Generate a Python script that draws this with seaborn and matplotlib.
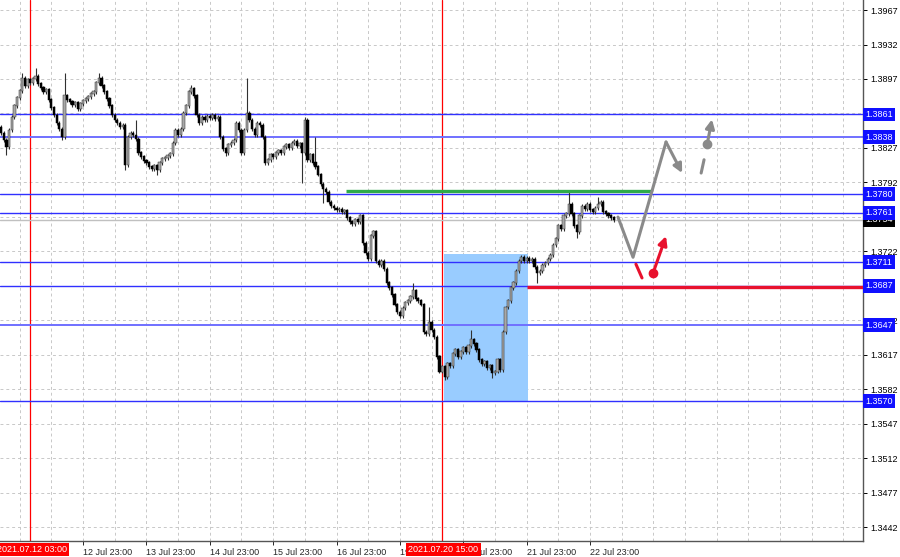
import numpy as np
import pandas as pd
import matplotlib.pyplot as plt
import seaborn as sns
from matplotlib.patches import Rectangle
from matplotlib.transforms import blended_transform_factory

# hourly closes, in pips above 1.3000 (bar 0 = left edge of chart)
OPEN0 = 848
CLOSES = [
    842, 835, 828, 845, 858, 870, 878, 885, 898, 890,
    896, 893, 897, 900, 892, 888, 884, 886, 876, 868,
    860, 852, 846, 838, 880, 876, 874, 871, 873, 867,
    872, 875, 877, 879, 882, 884, 893, 898, 890, 884,
    877, 870, 860, 855, 852, 848, 850, 810, 838, 842,
    840, 836, 822, 818, 814, 812, 808, 806, 809, 805,
    812, 816, 817, 819, 821, 832, 845, 840, 846, 862,
    870, 884, 887, 880, 860, 852, 858, 855, 859, 857,
    860, 856, 858, 838, 826, 822, 830, 832, 835, 852,
    845, 822, 845, 862, 855, 846, 840, 852, 850, 838,
    812, 815, 820, 818, 822, 824, 822, 828, 830, 827,
    832, 834, 829, 831, 822, 855, 815, 820, 812, 808,
    800, 790, 785, 782, 772, 768, 766, 764, 765, 762,
    763, 756, 752, 750, 754, 752, 758, 730, 720, 714,
    738, 742, 712, 708, 712, 704, 690, 685, 678, 668,
    660, 656, 664, 670, 672, 676, 682, 674, 672, 668,
    640, 638, 650, 642, 635, 615, 600, 605, 594, 608,
    606, 618, 622, 615, 620, 624, 620, 626, 632, 628,
    622, 612, 608, 610, 604, 606, 598, 600, 612, 602,
    640, 665, 672, 685, 690, 702, 712, 716, 712, 715,
    712, 714, 706, 700, 702, 708, 710, 714, 718, 728,
    735, 748, 745, 758, 760, 770, 760, 748, 742, 758,
    768, 765, 770, 764, 762, 766, 770, 772, 762, 760,
    758, 756, 754,
]
UP_WICK = [
    2, 2, 2, 2, 2, 2, 2, 2, 5, 2,   2, 2, 2, 8, 2, 2, 2, 2, 2, 2,
    2, 2, 2, 2, 23, 2, 2, 2, 2, 2,  2, 2, 2, 2, 2, 2, 2, 5, 2, 2,
    2, 2, 2, 2, 2, 2, 2, 2, 2, 2,   2, 15, 2, 2, 2, 2, 2, 2, 2, 2,
    2, 2, 2, 2, 2, 2, 2, 2, 2, 2,   2, 2, 4, 2, 2, 2, 2, 2, 2, 2,
    2, 2, 2, 2, 2, 2, 2, 2, 2, 2,   2, 2, 2, 36, 2, 2, 2, 2, 2, 2,
    2, 2, 2, 2, 2, 2, 2, 2, 2, 2,   2, 2, 2, 2, 2, 3, 2, 2, 2, 26,
    2, 2, 2, 2, 2, 2, 2, 2, 2, 2,   2, 2, 2, 2, 2, 2, 2, 2, 2, 2,
    2, 2, 2, 2, 2, 2, 2, 2, 2, 2,   2, 2, 2, 2, 2, 2, 8, 2, 2, 2,
    2, 2, 15, 2, 2, 2, 2, 2, 2, 2,  2, 2, 2, 2, 2, 2, 2, 2, 10, 2,
    2, 2, 2, 2, 2, 2, 2, 2, 2, 2,   2, 2, 2, 2, 2, 2, 2, 2, 2, 2,
    2, 2, 2, 2, 2, 2, 2, 2, 2, 2,   2, 2, 2, 2, 2, 14, 2, 2, 2, 2,
    2, 2, 2, 2, 2, 2, 7, 2, 2, 2,   2, 2, 2,
]
DN_WICK = [
    2, 2, 8, 2, 2, 2, 2, 2, 2, 2,   2, 2, 2, 2, 2, 2, 2, 2, 2, 2,
    2, 2, 2, 3, 2, 2, 2, 2, 2, 2,   2, 2, 2, 2, 2, 2, 2, 2, 2, 2,
    2, 2, 2, 2, 2, 2, 2, 5, 2, 2,   2, 2, 2, 2, 2, 2, 2, 2, 2, 5,
    2, 2, 2, 2, 2, 2, 2, 2, 2, 2,   2, 2, 2, 2, 2, 2, 2, 2, 2, 2,
    2, 2, 2, 2, 2, 3, 2, 2, 2, 2,   2, 2, 2, 2, 2, 2, 2, 2, 2, 2,
    2, 2, 2, 2, 2, 2, 2, 2, 2, 2,   2, 2, 2, 2, 31, 2, 2, 2, 2, 2,
    2, 2, 14, 2, 2, 2, 2, 2, 2, 2,  2, 2, 2, 2, 2, 2, 2, 2, 2, 2,
    2, 2, 2, 2, 2, 2, 2, 2, 2, 2,   2, 2, 2, 2, 2, 2, 2, 2, 2, 2,
    2, 2, 2, 2, 2, 2, 2, 2, 3, 2,   2, 2, 2, 2, 2, 2, 2, 2, 2, 2,
    2, 2, 2, 2, 2, 2, 5, 2, 2, 2,   2, 2, 2, 2, 2, 2, 2, 2, 2, 2,
    2, 2, 2, 10, 2, 2, 2, 2, 2, 2,  2, 2, 2, 2, 2, 2, 2, 2, 6, 2,
    2, 2, 2, 2, 2, 2, 2, 2, 2, 2,   2, 2, 2,
]

# levels drawn on the chart
LEVELS = [1.3861, 1.3838, 1.3780, 1.3761, 1.3711, 1.3687, 1.3647, 1.3570]
SOFT_LEVELS = [1.3838, 1.3647]
BID = 1.3754
GREEN_LEVEL, GREEN_FROM, GREEN_TO = 1.3783, 130.6, 246.1
RED_LEVEL, RED_FROM = 1.3686, 199.2
ZONE_BARS = (167.6, 199.7)
ZONE_PRICES = (1.3570, 1.3719)
MARK_BARS = [11, 167]
MARK_LABELS = ["2021.07.12 03:00", "2021.07.20 15:00"]

# forecast path
PATH_BARS = [233.6, 239.3, 251.8]
PATH_PRICES = [1.37568, 1.3716, 1.3833]
PATH_END = (257.9, 1.38015)
ALT_DASH_BARS, ALT_DASH_PRICES = [265.1, 266.2], [1.38015, 1.3815]
ALT_DOT, ALT_END = (267.4, 1.3831), (269.2, 1.3856)
RED_DASH_BARS, RED_DASH_PRICES = [240.4, 242.7], [1.3709, 1.3695]
RED_DOT, RED_END = (246.9, 1.3700), (251.8, 1.37375)

# axis (ticks hidden under level boxes get no label, as in the terminal)
PRICE_TICKS = [1.3442, 1.3477, 1.3512, 1.3547, 1.3582, 1.3617, 1.3652, 1.3687,
               1.3722, 1.3757, 1.3792, 1.3827, 1.3862, 1.3897, 1.3932, 1.3967]
HIDDEN_TICKS = [1.3687, 1.3757, 1.3862]
DAY_BARS = [31, 55, 79, 103, 127, 151, 175, 199, 223]
DAY_LABELS = ["12 Jul 23:00", "13 Jul 23:00", "14 Jul 23:00", "15 Jul 23:00",
              "16 Jul 23:00", "19 Jul 23:00", "20 Jul 23:00", "21 Jul 23:00",
              "22 Jul 23:00"]

sns.set_style("white")
plt.rcParams['font.family'] = ['Liberation Sans', 'DejaVu Sans']

df = pd.DataFrame({"close": 1.3 + np.array(CLOSES) / 10000})
df["open"] = 1.3 + np.array([OPEN0] + CLOSES[:-1]) / 10000
df["high"] = df[["open", "close"]].max(axis=1) + np.array(UP_WICK) / 10000
df["low"] = df[["open", "close"]].min(axis=1) - np.array(DN_WICK) / 10000
df["bar"] = np.arange(len(df))
bull = df["close"] >= df["open"]

fig = plt.figure(figsize=(9, 5.57), dpi=100)
ax = fig.add_axes([0, 16 / 557, 863 / 900, 541 / 557])
ax.set_xlim(-0.455, 326.4)
ax.set_ylim(1.34279, 1.39772)

# grid
for p in PRICE_TICKS:
    ax.axhline(p, color="#c8c8c8", lw=0.7, ls=(0, (3, 3)), zorder=0)
for b in np.arange(7, 327, 12):
    ax.axvline(b, color="#c8c8c8", lw=0.7, ls=(0, (3, 3)), zorder=0)

ax.add_patch(Rectangle((ZONE_BARS[0], ZONE_PRICES[0]), ZONE_BARS[1] - ZONE_BARS[0],
                       ZONE_PRICES[1] - ZONE_PRICES[0], fc="#99ccff", ec="none", zorder=1))

for b in MARK_BARS:
    ax.axvline(b, color="#ff0000", lw=0.9, zorder=1.5)

for lv in LEVELS:
    soft = lv in SOFT_LEVELS
    ax.axhline(lv, color="#3030ff" if not soft else "#7070ff", lw=1.4 if soft else 1.0, zorder=2)
ax.axhline(BID, color="#c0c0c0", lw=1.0, zorder=2)

# candles
ax.vlines(df["bar"], df["low"], df["high"], color="#303030", lw=0.8, zorder=3)
ax.bar(df["bar"][bull], (df["close"] - df["open"])[bull] + 0.00005, bottom=df["open"][bull],
       width=0.85, color="#a8a8a8", edgecolor="#303030", lw=0.35, zorder=4)
ax.bar(df["bar"][~bull], (df["open"] - df["close"])[~bull] + 0.00005, bottom=df["close"][~bull],
       width=0.85, color="#000000", edgecolor="#000000", lw=0.35, zorder=4)

ax.hlines(GREEN_LEVEL, GREEN_FROM, GREEN_TO, color="#2eaa4a", lw=2.4, zorder=5)
ax.hlines(RED_LEVEL, RED_FROM, 326.4, color="#e8112d", lw=2.4, zorder=5)

# forecast drawings
gray, red = "#8a8a8a", "#e8112d"
sns.lineplot(x=PATH_BARS, y=PATH_PRICES, sort=False, color=gray, lw=2.2, ax=ax, zorder=6)
ax.annotate("", xy=PATH_END, xytext=(PATH_BARS[-1], PATH_PRICES[-1]),
            arrowprops=dict(arrowstyle="-|>", color=gray, lw=2.2, mutation_scale=13,
                            shrinkA=0, shrinkB=0), zorder=6)
sns.lineplot(x=ALT_DASH_BARS, y=ALT_DASH_PRICES, sort=False, color=gray, lw=2.2, ax=ax, zorder=6)
ax.plot(*ALT_DOT, "o", color=gray, ms=6, zorder=6)
ax.annotate("", xy=ALT_END, xytext=ALT_DOT,
            arrowprops=dict(arrowstyle="-|>", color=gray, lw=2.2, mutation_scale=13,
                            shrinkA=0, shrinkB=0), zorder=6)
sns.lineplot(x=RED_DASH_BARS, y=RED_DASH_PRICES, sort=False, color=red, lw=2.2, ax=ax, zorder=6)
ax.plot(*RED_DOT, "o", color=red, ms=6, zorder=6)
ax.annotate("", xy=RED_END, xytext=RED_DOT,
            arrowprops=dict(arrowstyle="-|>", color=red, lw=2.2, mutation_scale=13,
                            shrinkA=0, shrinkB=0), zorder=6)

# axes styling
for s in ["top", "left"]:
    ax.spines[s].set_visible(False)
for s in ["right", "bottom"]:
    ax.spines[s].set_color("#555555")
    ax.spines[s].set_linewidth(1.0)
ax.yaxis.tick_right()
ax.set_yticks(PRICE_TICKS)
ax.set_yticklabels(["" if p in HIDDEN_TICKS else f"{p:.4f}" for p in PRICE_TICKS])
ax.set_xticks(DAY_BARS)
ax.set_xticklabels(DAY_LABELS, ha="left")
ax.tick_params(axis="y", right=True, length=3, width=0.7, pad=2, labelsize=6.5, colors="#000000")
ax.tick_params(axis="x", bottom=True, length=3, width=0.7, pad=2, labelsize=6.5)
ax.set_xlabel("")
ax.set_ylabel("")

ytr = blended_transform_factory(ax.transAxes, ax.transData)
ax.text(1.003, BID, f"{BID:.4f}", transform=ytr, ha="left", va="center", fontsize=6.5,
        color="white", zorder=10, clip_on=False,
        bbox=dict(boxstyle="square,pad=0.25", fc="#000000", ec="none"))
for lv in LEVELS:
    ax.text(1.003, lv, f"{lv:.4f}", transform=ytr, ha="left", va="center", fontsize=6.5,
            color="white", zorder=11, clip_on=False,
            bbox=dict(boxstyle="square,pad=0.25", fc="#1010ff", ec="none"))

xtr = blended_transform_factory(ax.transData, ax.transAxes)
for b, lab in zip(MARK_BARS, MARK_LABELS):
    ax.text(b + 0.5, -0.007, lab, transform=xtr, ha="center", va="top", fontsize=6.5,
            color="white", zorder=11, clip_on=False,
            bbox=dict(boxstyle="square,pad=0.25", fc="#ff0000", ec="none"))

fig.savefig("out.png", dpi=100)
